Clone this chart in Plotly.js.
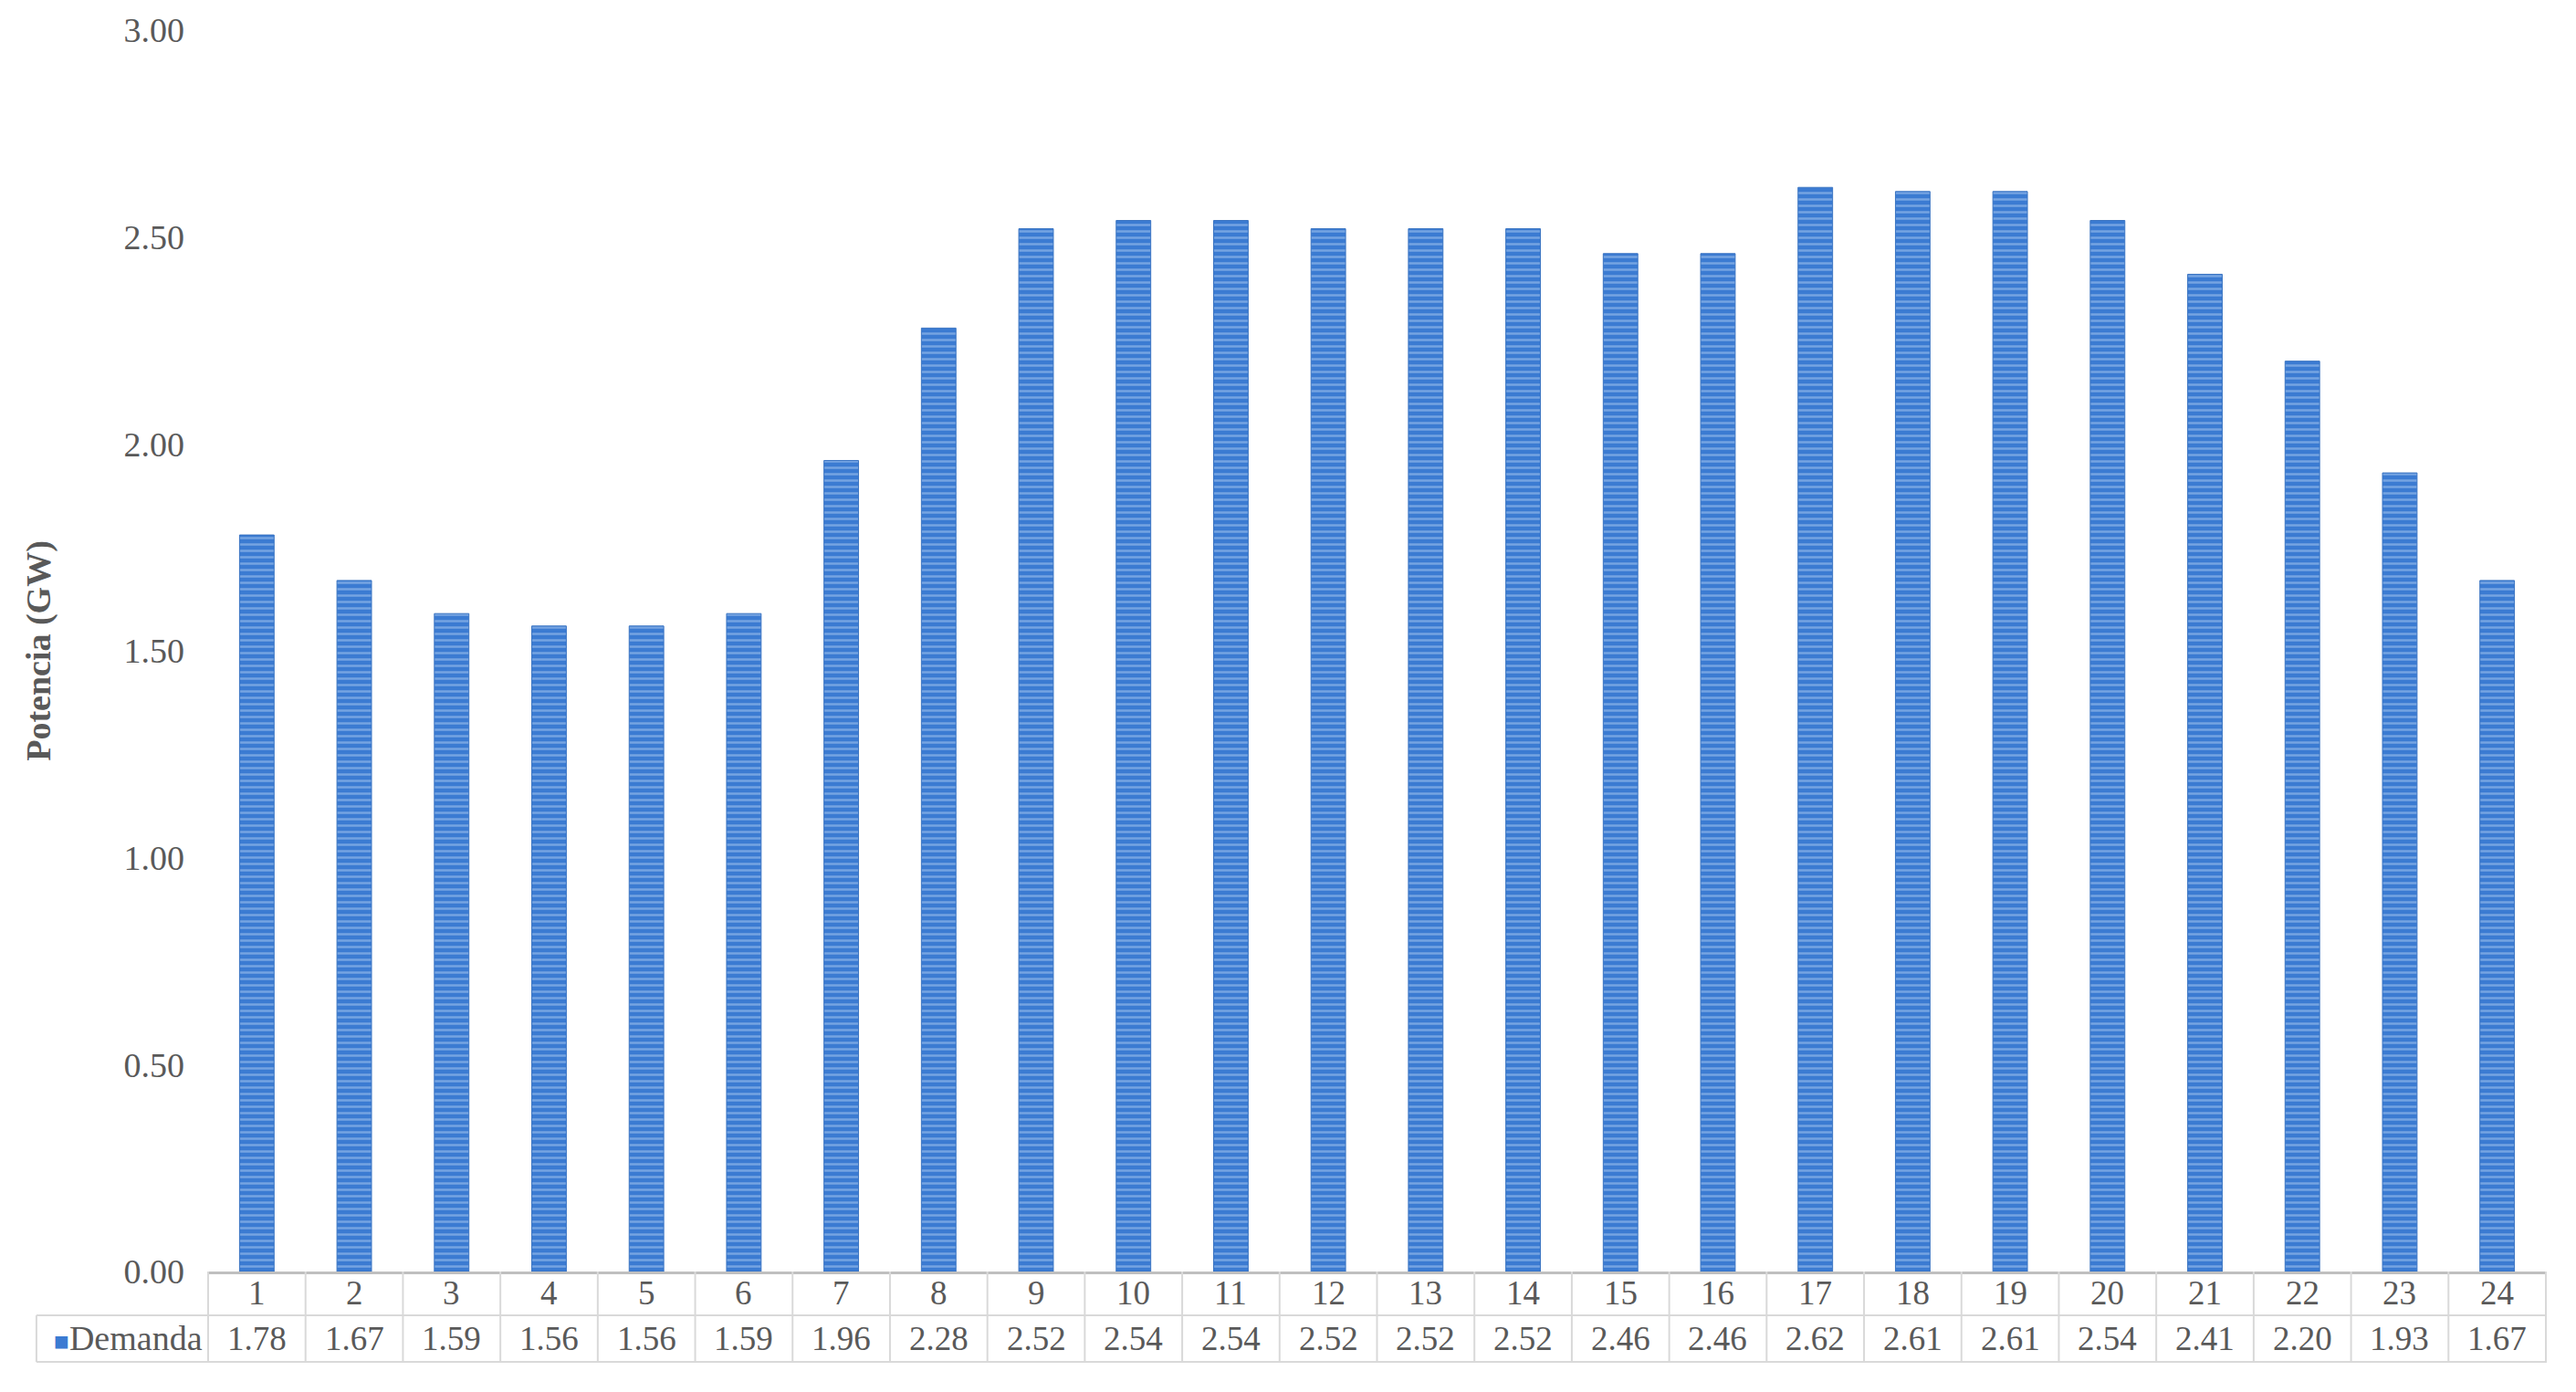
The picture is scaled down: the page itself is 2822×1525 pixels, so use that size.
<!DOCTYPE html>
<html>
<head>
<meta charset="utf-8">
<script src="https://cdn.plot.ly/plotly-3.0.1.min.js"></script>
<style>
  html, body { margin: 0; padding: 0; background: #fff; }
  #chart { width: 2822px; height: 1525px; }
</style>
</head>
<body>
<div id="chart"></div>
<script>
// Demanda horaria (GW)
const horas = ['1', '2', '3', '4', '5', '6', '7', '8', '9', '10', '11', '12',
               '13', '14', '15', '16', '17', '18', '19', '20', '21', '22', '23', '24'];
const demanda = [1.78, 1.67, 1.59, 1.56, 1.56, 1.59, 1.96, 2.28, 2.52, 2.54, 2.54, 2.52,
                 2.52, 2.52, 2.46, 2.46, 2.62, 2.61, 2.61, 2.54, 2.41, 2.20, 1.93, 1.67];
const serie = 'Demanda';
const yTicks = [0, 0.5, 1, 1.5, 2, 2.5, 3];

const azul = '#3b7bd2';
const gris = '#595959';
const borde = '#d9d9d9';
const fuente = 'Liberation Serif, Times New Roman, serif';

// filas de la tabla de datos (coordenadas paper)
const yFila1 = -0.0176;   // centro fila horas
const yLinea = -0.0353;   // separacion filas
const yFila2 = -0.0537;   // centro fila valores
const yFondo = -0.0728;   // borde inferior
const xIzq = -0.073;      // borde izquierdo celda leyenda

const data = [{
    type: 'bar',
    x: horas,
    y: demanda,
    name: serie,
    marker: {
        color: azul,
        line: { color: '#3a74c2', width: 1 },
        pattern: {
            shape: '-',
            fillmode: 'overlay',
            fgcolor: '#b0cdf2',
            size: 7,
            solidity: 0.35
        }
    },
    hoverinfo: 'x+y'
}];

const shapes = [];
const annotations = [];

// lineas verticales de la tabla
for (let i = 0; i <= horas.length; i++) {
    shapes.push({
        type: 'line', xref: 'x', yref: 'paper',
        x0: i - 0.5, x1: i - 0.5, y0: 0, y1: yFondo,
        line: { color: borde, width: 2 }
    });
}
// lineas horizontales
shapes.push({ type: 'line', xref: 'paper', yref: 'paper', x0: xIzq, x1: 1, y0: yLinea, y1: yLinea, line: { color: borde, width: 2 } });
shapes.push({ type: 'line', xref: 'paper', yref: 'paper', x0: xIzq, x1: 1, y0: yFondo, y1: yFondo, line: { color: borde, width: 2 } });
shapes.push({ type: 'line', xref: 'paper', yref: 'paper', x0: xIzq, x1: xIzq, y0: yLinea, y1: yFondo, line: { color: borde, width: 2 } });

horas.forEach((h, i) => {
    annotations.push({
        xref: 'x', yref: 'paper', x: i, y: yFila1,
        text: h, showarrow: false, yanchor: 'middle',
        font: { family: fuente, size: 37, color: gris }
    });
    annotations.push({
        xref: 'x', yref: 'paper', x: i, y: yFila2,
        text: demanda[i].toFixed(2), showarrow: false, yanchor: 'middle',
        font: { family: fuente, size: 37, color: gris }
    });
});
annotations.push({
    xref: 'paper', yref: 'paper', x: -0.001, y: yFila2,
    xanchor: 'right', yanchor: 'middle', showarrow: false,
    text: '<span style="color:' + azul + ';font-size:28px">■</span>' + serie,
    font: { family: fuente, size: 38, color: gris }
});

const layout = {
    width: 2822,
    height: 1525,
    paper_bgcolor: '#fff',
    plot_bgcolor: '#fff',
    margin: { l: 227, r: 32, t: 33, b: 132 },
    showlegend: false,
    bargap: 0.645,
    font: { family: fuente, color: gris },
    xaxis: {
        type: 'category',
        showticklabels: false,
        ticks: '',
        showgrid: false,
        zeroline: false,
        showline: true,
        linecolor: '#bfbfbf',
        linewidth: 3
    },
    yaxis: {
        range: [0, 3],
        tickvals: yTicks,
        tickformat: '.2f',
        ticks: '',
        ticklabelstandoff: 24,
        showgrid: false,
        zeroline: false,
        showline: false,
        tickfont: { family: fuente, size: 38, color: gris },
        title: {
            text: '<b>Potencia (GW)</b>',
            standoff: 68,
            font: { family: fuente, size: 38, color: gris }
        },
        automargin: false
    },
    shapes: shapes,
    annotations: annotations
};

Plotly.newPlot('chart', data, layout, { displayModeBar: false });
</script>
</body>
</html>
